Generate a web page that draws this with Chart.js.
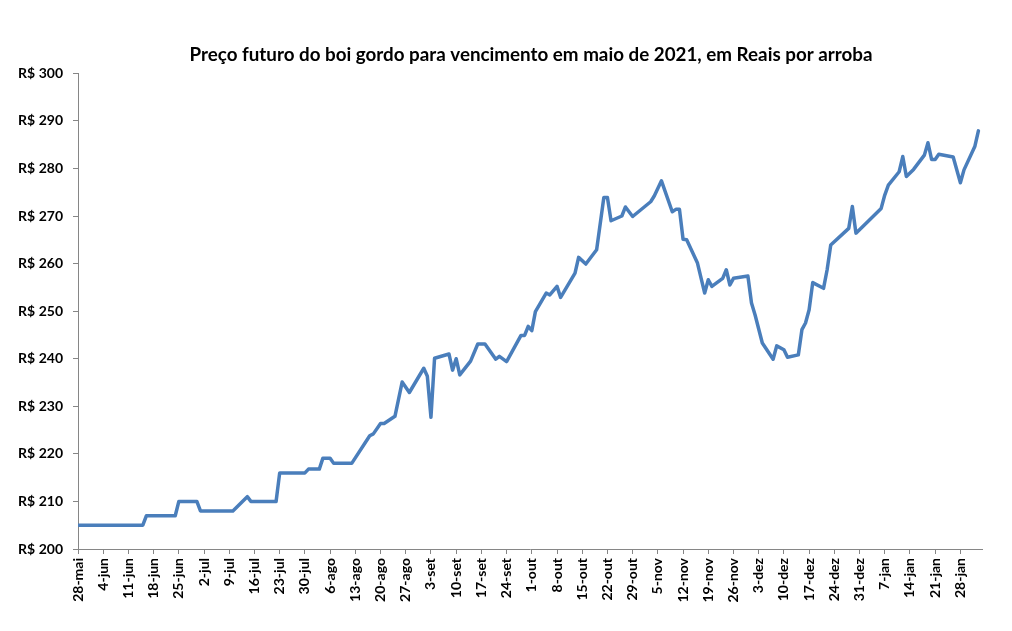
<!DOCTYPE html>
<html>
<head>
<meta charset="utf-8">
<script src="https://cdn.jsdelivr.net/npm/chart.js@4.4.1/dist/chart.umd.min.js"></script>
<style>
html,body{margin:0;padding:0;background:#fff;}
#wrap{width:1012px;height:631px;position:relative;}
</style>
</head>
<body>
<div id="wrap"><canvas id="c" width="1012" height="631"></canvas></div>
<script>
const chartTitle = 'Preço futuro do boi gordo para vencimento em maio de 2021, em Reais por arroba';
const startDate = '2020-05-28';
const tickLabels = ['28-mai','4-jun','11-jun','18-jun','25-jun','2-jul','9-jul','16-jul','23-jul','30-jul','6-ago','13-ago','20-ago','27-ago','3-set','10-set','17-set','24-set','1-out','8-out','15-out','22-out','29-out','5-nov','12-nov','19-nov','26-nov','3-dez','10-dez','17-dez','24-dez','31-dez','7-jan','14-jan','21-jan','28-jan'];
const yTicks = [200,210,220,230,240,250,260,270,280,290,300];

const dates = [
'2020-05-28','2020-06-15','2020-06-16','2020-06-24','2020-06-25','2020-06-30','2020-07-01','2020-07-10','2020-07-14','2020-07-15',
'2020-07-22','2020-07-23','2020-07-30','2020-07-31','2020-08-03','2020-08-04','2020-08-06','2020-08-07','2020-08-12','2020-08-17',
'2020-08-18','2020-08-20','2020-08-21','2020-08-24','2020-08-26','2020-08-28','2020-09-01','2020-09-02','2020-09-03','2020-09-04',
'2020-09-08','2020-09-09','2020-09-10','2020-09-11','2020-09-14','2020-09-16','2020-09-18','2020-09-21','2020-09-22','2020-09-24',
'2020-09-28','2020-09-29','2020-09-30','2020-10-01','2020-10-02','2020-10-05','2020-10-06','2020-10-08','2020-10-09','2020-10-13',
'2020-10-14','2020-10-16','2020-10-19','2020-10-21','2020-10-22','2020-10-23','2020-10-26','2020-10-27','2020-10-29','2020-11-03',
'2020-11-04','2020-11-06','2020-11-09','2020-11-10','2020-11-11','2020-11-12','2020-11-13','2020-11-16','2020-11-18','2020-11-19',
'2020-11-20','2020-11-23','2020-11-24','2020-11-25','2020-11-26','2020-11-30','2020-12-01','2020-12-02','2020-12-04','2020-12-07',
'2020-12-08','2020-12-10','2020-12-11','2020-12-14','2020-12-15','2020-12-16','2020-12-17','2020-12-18','2020-12-21','2020-12-22',
'2020-12-23','2020-12-28','2020-12-29','2020-12-30','2021-01-06','2021-01-07','2021-01-08','2021-01-11','2021-01-12','2021-01-13',
'2021-01-15','2021-01-18','2021-01-19','2021-01-20','2021-01-21','2021-01-22','2021-01-26','2021-01-28','2021-01-29','2021-02-01',
'2021-02-02'
];
const prices = [
205.0,205.0,207.0,207.0,210.0,210.0,208.0,208.0,211.0,210.0,
210.0,216.0,216.0,216.8,216.8,219.1,219.1,218.0,218.0,223.8,
224.2,226.4,226.4,227.9,235.1,232.9,238.0,236.3,227.7,240.1,
241.0,237.6,240.0,236.6,239.5,243.1,243.1,239.9,240.5,239.4,
244.9,244.9,246.8,245.9,249.9,253.8,253.4,255.2,252.9,258.0,
261.3,259.9,262.9,273.9,273.9,269.0,270.0,271.9,269.9,273.0,
274.2,277.4,270.9,271.4,271.4,265.1,265.0,260.1,253.8,256.6,
255.2,256.9,258.7,255.5,256.9,257.4,251.7,249.2,243.3,239.9,
242.7,241.9,240.3,240.8,246.1,247.5,250.3,256.0,254.8,258.7,
263.9,267.4,272.0,266.4,271.6,274.4,276.5,279.3,282.5,278.3,
279.8,282.8,285.4,281.9,281.9,283.0,282.4,277.0,279.7,284.6,
287.9
];

const DAY = 86400000;
const dayIndex = d => Math.round((Date.parse(d) - Date.parse(startDate)) / DAY);
const points = dates.map((d, i) => ({ x: dayIndex(d), y: prices[i] }));

const FONT = 'Lato';
const axisGray = '#868686';

const titlePlugin = {
  id: 'pageTitle',
  afterDraw(chart) {
    const ctx = chart.ctx;
    ctx.save();
    ctx.font = 'bold 18.8px ' + FONT;
    ctx.fillStyle = '#000';
    ctx.textAlign = 'center';
    ctx.textBaseline = 'middle';
    ctx.fillText(chartTitle, 531, 55);
    ctx.restore();
  }
};

new Chart(document.getElementById('c'), {
  type: 'line',
  data: {
    datasets: [{
      data: points,
      borderColor: '#4A7EBB',
      borderWidth: 3.5,
      pointRadius: 0,
      tension: 0,
      fill: false,
      borderJoinStyle: 'round',
      borderCapStyle: 'round'
    }]
  },
  plugins: [titlePlugin],
  options: {
    responsive: false,
    animation: false,
    events: [],
    layout: { padding: { left: 0, right: 30, top: 73.3, bottom: 0 } },
    plugins: {
      legend: { display: false },
      tooltip: { enabled: false },
      title: { display: false }
    },
    scales: {
      x: {
        type: 'linear',
        min: 0,
        max: 251,
        afterBuildTicks: s => { s.ticks = tickLabels.map((l, i) => ({ value: i * 7 })); },
        afterFit: s => { s.height = 82; },
        ticks: {
          autoSkip: false,
          maxRotation: 90,
          minRotation: 90,
          padding: 4,
          color: '#000',
          font: { family: FONT, size: 14, weight: 'bold' },
          callback: (v, i) => tickLabels[i]
        },
        grid: { display: true, drawOnChartArea: false, drawTicks: true, tickLength: 5, color: axisGray },
        border: { display: true, color: axisGray, width: 1 }
      },
      y: {
        min: 200,
        max: 300,
        afterBuildTicks: s => { s.ticks = yTicks.map(v => ({ value: v })); },
        afterFit: s => { s.width = 78; },
        ticks: {
          padding: 10,
          color: '#000',
          font: { family: FONT, size: 14, weight: 'bold' },
          callback: v => 'R$ ' + v
        },
        grid: { display: true, drawOnChartArea: false, drawTicks: true, tickLength: 5, color: axisGray },
        border: { display: true, color: axisGray, width: 1 }
      }
    }
  }
});
</script>
</body>
</html>
